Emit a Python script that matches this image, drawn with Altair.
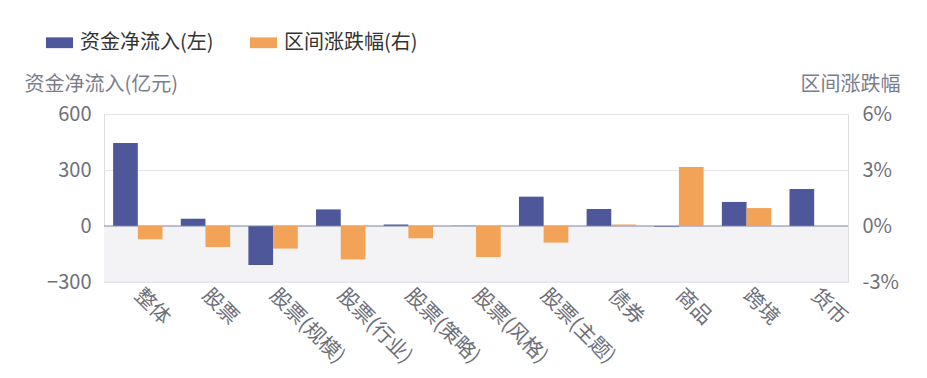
import altair as alt
import pandas as pd

categories = ["整体", "股票", "股票(规模)", "股票(行业)", "股票(策略)", "股票(风格)",
              "股票(主题)", "债券", "商品", "跨境", "货币"]
flows = [445, 39, -209, 89, 8, 1, 157, 91, -4, 129, 198]          # 亿元
changes = [-0.71, -1.13, -1.21, -1.79, -0.66, -1.66, -0.89, 0.08, 3.16, 0.96, 0.0]  # %

s_flow = "资金净流入(左)"
s_chg = "区间涨跌幅(右)"
series = [s_flow, s_chg]
colors = ["#4d5799", "#f2a358"]

left_ticks = [-300, 0, 300, 600]
right_ticks = [-3, 0, 3, 6]

df = pd.DataFrame(
    [{"cat": c, "series": s_flow, "value": v} for c, v in zip(categories, flows)]
    + [{"cat": c, "series": s_chg, "value": v} for c, v in zip(categories, changes)]
)

FONT = "Noto Sans CJK SC"
LABEL = "#6e7079"
GRID = "#e3e4f0"

x_enc = alt.X("cat:N", sort=categories,
              scale=alt.Scale(paddingInner=0.27, paddingOuter=0.135),
              axis=alt.Axis(title=None, labelAngle=45, labelAlign="left",
                            labelBaseline="middle", labelPadding=10, domain=False,
                            ticks=False, labelFontSize=20.5, labelColor=LABEL,
                            labelFont=FONT))
xoff = alt.XOffset("series:N", scale=alt.Scale(domain=series, paddingInner=0, paddingOuter=0))
color = alt.Color("series:N", scale=alt.Scale(domain=series, range=colors),
                  legend=alt.Legend(orient="none", legendX=-58, legendY=-85,
                                    direction="horizontal", title=None,
                                    symbolType="M-1,-0.4L1,-0.4L1,0.4L-1,0.4Z",
                                    symbolSize=729, symbolStrokeWidth=0, symbolOpacity=1,
                                    labelFontSize=20, labelColor="#333", labelFont=FONT,
                                    columnPadding=36, labelOffset=7, padding=0))

left_scale = alt.Scale(domain=[-300, 600], nice=False, zero=False)
right_scale = alt.Scale(domain=[-3, 6], nice=False, zero=False)

left_axis = alt.Axis(title="资金净流入(亿元)", values=left_ticks, grid=True, gridColor=GRID,
                     domain=False, ticks=False, labelPadding=13, labelFontSize=20,
                     labelColor=LABEL, labelFont=FONT, titleAngle=0, titleAlign="left",
                     titleBaseline="middle", titleX=-80, titleY=-30, titleFontSize=20,
                     titleFontWeight="normal", titleColor="#7a7d8c", titleFont=FONT)
right_axis = alt.Axis(title="区间涨跌幅", values=right_ticks, grid=False, orient="right",
                      domain=False, ticks=False, labelPadding=14, labelFontSize=20,
                      labelColor=LABEL, labelFont=FONT, labelExpr="datum.value + '%'",
                      titleAngle=0, titleAlign="right", titleBaseline="middle",
                      titleX=52, titleY=-30, titleFontSize=20, titleFontWeight="normal",
                      titleColor="#7a7d8c", titleFont=FONT)

base = alt.Chart(df)

bg = alt.Chart(pd.DataFrame({"lo": [left_ticks[0]], "hi": [0]})).mark_rect(
    color="#f3f3f6").encode(
    y=alt.Y("lo:Q", scale=left_scale, axis=left_axis), y2="hi:Q")

bottom_rule = alt.Chart(pd.DataFrame({"v": [left_ticks[0]]})).mark_rule(
    color=GRID, strokeWidth=1).encode(y=alt.Y("v:Q", scale=left_scale))

flow_bars = base.transform_filter(alt.datum.series == s_flow).mark_bar().encode(
    x=x_enc, xOffset=xoff, color=color,
    y=alt.Y("value:Q", scale=left_scale, axis=left_axis))

zero_rule = alt.Chart(pd.DataFrame({"v": [0]})).mark_rule(
    color="#7f84a3", strokeWidth=1.2).encode(y=alt.Y("v:Q", scale=left_scale))

left_layer = alt.layer(bg, bottom_rule, flow_bars, zero_rule)

chg_bars = base.transform_filter(alt.datum.series == s_chg).mark_bar().encode(
    x=x_enc, xOffset=xoff, color=color,
    y=alt.Y("value:Q", scale=right_scale, axis=right_axis))

chart = alt.layer(left_layer, chg_bars).resolve_scale(y="independent").properties(
    width=744, height=168,
    autosize=alt.AutoSizeParams(type="none"),
    padding={"left": 96, "top": 106, "right": 70, "bottom": 87},
).configure_view(stroke=None).configure(font=FONT)

chart.save("out.html", embed_options={"renderer": "svg", "actions": False})
